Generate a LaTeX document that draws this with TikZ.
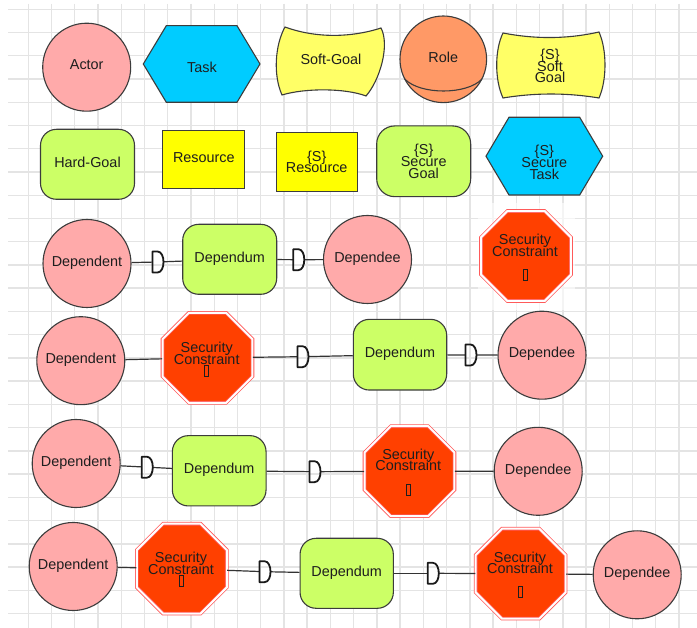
\documentclass[tikz,border=0pt]{standalone}
\usepackage{fontspec}
\setmainfont{Liberation Sans}
\usetikzlibrary{shapes.geometric}
\definecolor{gridgray}{HTML}{E4E4E4}
\definecolor{edgegray}{HTML}{3C3C3C}
\definecolor{ink}{HTML}{1E1E1E}
\definecolor{actorpink}{HTML}{FFAAAA}
\definecolor{rolesalmon}{HTML}{FF9966}
\definecolor{taskblue}{HTML}{00CCFF}
\definecolor{softyellow}{HTML}{FFFF66}
\definecolor{goalgreen}{HTML}{CCFF66}
\definecolor{resyellow}{HTML}{FFFF00}
\definecolor{octred}{HTML}{FF4000}
\definecolor{octline}{HTML}{FF5A5A}
\definecolor{linkgray}{HTML}{333333}
\newcommand\tightfont{\fontsize{14.4}{11.7}\selectfont\lineskiplimit=-\maxdimen\lineskip=0pt\relax}

\begin{document}
\begin{tikzpicture}[x=1pt, y=-1pt,
  gridline/.style={draw=gridgray, line width=1.4pt},
  shapeline/.style={draw=edgegray, line width=1.1pt},
  txt/.style={font=\tightfont, text=ink, align=center, inner sep=0pt},
  oneline/.style={text height=10.5pt, text depth=5pt},
  actorshape/.style={circle, shapeline, fill=actorpink, minimum size=88pt, inner sep=0pt, txt, oneline},
  goalbox/.style={rectangle, rounded corners=16pt, shapeline, fill=goalgreen, minimum width=94pt, minimum height=70pt, inner sep=0pt, txt},
  resbox/.style={rectangle, shapeline, fill=resyellow, minimum width=82pt, minimum height=58.5pt, inner sep=0pt, txt},
  octo/.style={regular polygon, regular polygon sides=8, minimum size=97.4pt, inner sep=0pt, draw=octline, line width=0.8pt, double=white, double distance=2pt, fill=octred},
  tofu/.style={draw=ink, line width=0.9pt, minimum width=4pt, minimum height=11pt, inner sep=0pt},
  dsym/.style={minimum width=11pt, minimum height=21pt, inner sep=0pt, outer sep=0pt},
  dstroke/.style={draw=black!90, line width=1.8pt, line join=round},
  link/.style={draw=linkgray, line width=1.2pt}
]
\useasboundingbox (0,0) rectangle (697,628);
\fill[white] (0,0) rectangle (697,628);

% background grid
\foreach \i in {0,...,28} \draw[gridline] ({28.3+23.24*\i},4) -- ({28.3+23.24*\i},628);
\foreach \j in {0,...,26} \draw[gridline] (8,{9.3+23.24*\j}) -- (697,{9.3+23.24*\j});
\fill[white, opacity=0.6] (478,203) rectangle (575,310);

% ---------- palette: first row ----------
\node[actorshape] (actor) at (86.7,67.2) {Actor};

\draw[shapeline, fill=taskblue] (143.3,64) -- (166.3,25.7) -- (237,25.7) -- (260,64) -- (237,102.3) -- (166.3,102.3) -- cycle;
\node[txt, oneline] (task) at (202,70) {Task};

\draw[shapeline, fill=softyellow] (285,27) .. controls (315,38) and (350,38) .. (381,28)
  .. controls (390,45) and (380,80) .. (366,96)
  .. controls (345,88) and (305,88) .. (282,95)
  .. controls (273,75) and (275,45) .. (285,27) -- cycle;
\node[txt, oneline] (softgoal) at (331,62) {Soft-Goal};

\node[circle, shapeline, fill=rolesalmon, minimum size=86.6pt, inner sep=0pt, txt, oneline] (role) at (443.3,59.3) {Role};
\draw[shapeline] (404.7,79) .. controls (420,95) and (467,95) .. (482,79);

\draw[shapeline, fill=softyellow] (503,33) .. controls (535,39.2) and (567,39.2) .. (599,32)
  .. controls (607,50) and (607,80) .. (599,98)
  .. controls (567,92.7) and (535,92.7) .. (503,98)
  .. controls (494.6,80) and (494.6,50) .. (503,33) -- cycle;
\node[txt] (ssoftgoal) at (550,66) {\{S\}\\Soft\\Goal};

% ---------- palette: second row ----------
\node[goalbox, oneline] (hardgoal) at (87.5,164.3) {Hard-Goal};
\node[resbox, oneline] (resource) at (203.85,159.35) {Resource};
\node[resbox, minimum width=81.3pt, minimum height=58.3pt] (sresource) at (316.7,162) {\{S\}\\Resource};
\node[goalbox, rounded corners=18pt, minimum height=70.7pt] (sgoal) at (423.7,161.3) {\{S\}\\Secure\\Goal};

\draw[shapeline, fill=taskblue] (486,156.2) -- (509,117.3) -- (579.7,117.3) -- (602.7,156.2) -- (579.7,195) -- (509,195) -- cycle;
\node[txt] (stask) at (544.3,162.5) {\{S\}\\Secure\\Task};

% ---------- dependency: dependent - dependum - dependee ----------
\node[actorshape] (dep3) at (87,263.5) {Dependent};
\node[dsym] (d3a) at (158,262) {};
\node[goalbox, oneline] (dum3) at (229.7,259.3) {Dependum};
\node[dsym] (d3b) at (298.8,259.7) {};
\node[actorshape] (dee3) at (367.5,259.5) {Dependee};
\draw[link] (dep3) -- (d3a);
\draw[link] (d3a) -- (dum3);
\draw[link] (dum3) -- (d3b);
\draw[link] (d3b) -- (dee3);

% standalone security constraint
\node[octo] (sc0) at (526,256) {};
\node[txt] (sc0t) at (525,245.5) {Security\\Constraint};
\node[tofu] (sc0b) at (525,274.8) {};

% ---------- constraint on the dependent side ----------
\node[actorshape] (dep4) at (80.8,360.7) {Dependent};
\node[octo] (sc4) at (207.5,357.8) {};
\node[txt] (sc4t) at (206.7,353.5) {Security\\Constraint};
\node[tofu] (sc4b) at (206.7,371) {};
\node[dsym] (d4a) at (303,356.7) {};
\node[goalbox, oneline, minimum width=93.4pt, minimum height=70.7pt] (dum4) at (400,354.7) {Dependum};
\node[dsym] (d4b) at (471,355) {};
\node[actorshape] (dee4) at (542,355.2) {Dependee};
\draw[link] (dep4) -- (sc4);
\draw[link] (sc4) -- (d4a);
\draw[link] (d4a) -- (dum4);
\draw[link] (dum4) -- (d4b);
\draw[link] (d4b) -- (dee4);

% ---------- constraint on the dependee side ----------
\node[actorshape] (dep5) at (76.2,463.5) {Dependent};
\node[dsym] (d5a) at (147.3,467.2) {};
\node[goalbox, oneline, minimum width=93.7pt, minimum height=70.3pt] (dum5) at (219.2,470.8) {Dependum};
\node[dsym] (d5b) at (315,471.7) {};
\node[octo] (sc5) at (409.5,471.2) {};
\node[txt] (sc5t) at (408.3,460) {Security\\Constraint};
\node[tofu] (sc5b) at (408.3,490) {};
\node[actorshape] (dee5) at (538.2,471.3) {Dependee};
\draw[link] (dep5) -- (d5a);
\draw[link] (d5a) -- (dum5);
\draw[link] (dum5) -- (d5b);
\draw[link] (d5b) -- (sc5);
\draw[link] (sc5) -- (dee5);

% ---------- constraints on both sides ----------
\node[actorshape] (dep6) at (73.2,566.5) {Dependent};
\node[octo] (sc6a) at (181.8,568.7) {};
\node[txt] (sc6at) at (181,563.5) {Security\\Constraint};
\node[tofu] (sc6ab) at (181,581) {};
\node[dsym] (d6a) at (265,571.7) {};
\node[goalbox, oneline, minimum width=93.3pt, minimum height=70pt] (dum6) at (346.7,573.3) {Dependum};
\node[dsym] (d6b) at (433.3,573.3) {};
\node[octo] (sc6b) at (520.7,573.7) {};
\node[txt] (sc6bt) at (520,563) {Security\\Constraint};
\node[tofu] (sc6bb) at (520,591.7) {};
\node[actorshape] (dee6) at (637.2,574.8) {Dependee};
\draw[link] (dep6) -- (sc6a);
\draw[link] (sc6a) -- (d6a);
\draw[link] (d6a) -- (dum6);
\draw[link] (dum6) -- (d6b);
\draw[link] (d6b) -- (sc6b);
\draw[link] (sc6b) -- (dee6);

% "D" dependency markers
\foreach \n in {d3a,d3b,d4a,d4b,d5a,d5b,d6a,d6b}
  \draw[dstroke] (\n.south west) -- (\n.north west) -- ([xshift=5pt]\n.north west)
    .. controls ([xshift=13pt]\n.north west) and ([xshift=13pt]\n.south west) .. ([xshift=5pt]\n.south west) -- cycle;
\end{tikzpicture}
\end{document}
